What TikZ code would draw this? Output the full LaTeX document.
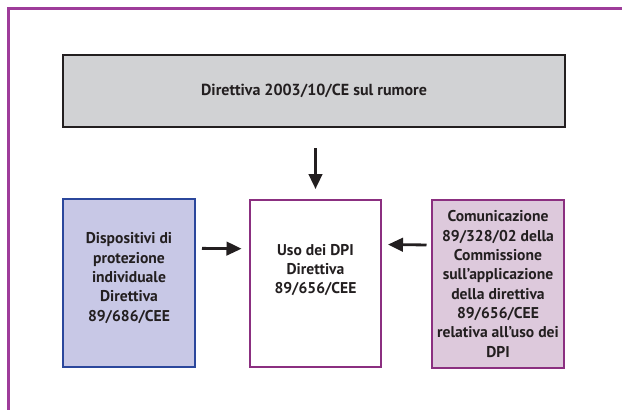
\documentclass[tikz,border=0pt]{standalone}
\usepackage{fontspec}
\setmainfont{PT Sans}
\usetikzlibrary{arrows.meta}
\definecolor{framepurple}{HTML}{9E3C9A}
\definecolor{edgepurple}{HTML}{8B2F80}
\definecolor{lilacfill}{HTML}{DDC9DC}
\definecolor{bluefill}{HTML}{C8C8E6}
\definecolor{blueedge}{HTML}{2B479C}
\definecolor{greyfill}{HTML}{D1D2D4}
\definecolor{darkedge}{HTML}{231F20}

\begin{document}
\begin{tikzpicture}[x=1pt,y=-1pt,font=\fontsize{15.6}{19.3}\selectfont\bfseries,
  box/.style={draw,line width=2.4pt,align=center,inner sep=2pt,text=darkedge},
  arr/.style={line width=2.8pt,draw=darkedge,-{Triangle[length=15pt,width=13.5pt]}}]
  \useasboundingbox (0,0) rectangle (622,410);
  \draw[framepurple,line width=2.8pt] (8.3,410) -- (8.3,8.3) -- (622,8.3);
  \node[box,draw=darkedge,fill=greyfill,minimum width=501.6pt,minimum height=71.6pt,font=\fontsize{16}{19.3}\selectfont\bfseries] (rumore) at (314,91) {Direttiva 2003/10/CE sul rumore};
  \node[box,draw=blueedge,fill=bluefill,minimum width=131.6pt,minimum height=167.6pt,text depth=12pt] (dpi) at (129,283) {Dispositivi di\\protezione\\individuale\\Direttiva\\89/686/CEE};
  \node[box,draw=edgepurple,fill=white,minimum width=130.6pt,minimum height=166.6pt,text depth=29pt] (uso) at (315.5,283.5) {Uso dei DPI\\Direttiva\\89/656/CEE};
  \node[box,draw=edgepurple,fill=lilacfill,minimum width=131.6pt,minimum height=167.6pt] (comm) at (498,284) {Comunicazione\\89/328/02 della\\Commissione\\sull’applicazione\\della direttiva\\89/656/CEE\\relativa all’uso dei\\DPI};
  \draw[arr,shorten <=20pt,shorten >=10pt] (uso.north |- rumore.south) -- (uso.north);
  \draw[arr,shorten <=6pt,shorten >=7.5pt] ([yshift=34.7pt]dpi.east) -- ([yshift=34.7pt]uso.west);
  \draw[arr,shorten <=4.5pt,shorten >=6pt] ([yshift=39pt]comm.west) -- ([yshift=39pt]uso.east);
\end{tikzpicture}
\end{document}
